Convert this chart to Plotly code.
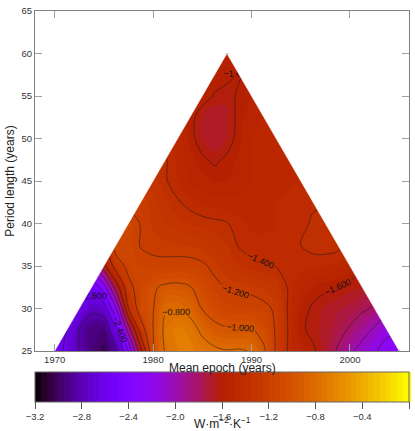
import math
import plotly.graph_objects as go

# Grid: mean epoch (years) and period length (years)
EPOCH = [1970.0, 1971.25, 1972.5, 1973.75, 1975.0, 1976.25, 1977.5, 1978.75, 1980.0,
         1981.25, 1982.5, 1983.75, 1985.0, 1986.25, 1987.5, 1988.75, 1990.0, 1991.25,
         1992.5, 1993.75, 1995.0, 1996.25, 1997.5, 1998.75, 2000.0, 2001.25, 2002.5,
         2003.75, 2005.0]
PERIOD = [25.0, 27.5, 30.0, 32.5, 35.0, 37.5, 40.0, 42.5, 45.0, 47.5, 50.0, 52.5, 55.0, 57.5, 60.0]

# Values inside the triangle, one list per period length (left edge -> right edge)
ROW_25 = [-2.50, -2.65, -2.80, -2.95, -3.02, -2.85, -2.40, -1.65, -1.02, -0.78, -0.70, -0.68,
          -0.72, -0.76, -0.79, -0.78, -0.81, -0.97, -1.22, -1.42, -1.52, -1.58, -1.68, -1.82,
          -1.96, -2.08, -2.18, -2.28, -2.36]
ROW_27_5 = [-2.60, -2.80, -2.95, -2.95, -2.60, -1.90, -1.30, -1.00, -0.75, -0.68, -0.72, -0.84,
            -0.95, -0.98, -0.985, -0.98, -1.07, -1.22, -1.41, -1.58, -1.63, -1.67, -1.74, -1.82,
            -1.92, -2.03, -2.15]
ROW_30 = [-2.60, -2.75, -2.70, -2.20, -1.40, -1.10, -1.01, -0.82, -0.81, -0.86, -1.01, -1.08,
          -1.13, -1.15, -1.15, -1.17, -1.22, -1.42, -1.55, -1.62, -1.66, -1.69, -1.72, -1.77, -1.82]
ROW_32_5 = [-2.55, -2.30, -1.70, -1.25, -1.12, -1.02, -0.97, -0.96, -0.99, -1.08, -1.17, -1.21,
            -1.22, -1.23, -1.26, -1.32, -1.41, -1.50, -1.55, -1.58, -1.60, -1.63, -1.65]
ROW_35 = [-1.65, -1.30, -1.15, -1.15, -1.17, -1.17, -1.16, -1.16, -1.18, -1.23, -1.30, -1.35,
          -1.38, -1.39, -1.405, -1.42, -1.43, -1.44, -1.45, -1.47, -1.52]
ROW_37_5 = [-1.10, -1.12, -1.21, -1.23, -1.24, -1.25, -1.26, -1.28, -1.31, -1.35, -1.41, -1.43,
            -1.44, -1.43, -1.42, -1.40, -1.37, -1.36, -1.37]
ROW_40 = [-1.12, -1.21, -1.26, -1.30, -1.33, -1.35, -1.37, -1.38, -1.395, -1.44, -1.46, -1.46,
          -1.45, -1.44, -1.42, -1.39, -1.36]
ROW_42_5 = [-1.21, -1.28, -1.34, -1.39, -1.43, -1.46, -1.48, -1.48, -1.48, -1.47, -1.46, -1.45,
            -1.44, -1.42, -1.41]
ROW_45 = [-1.32, -1.39, -1.45, -1.50, -1.53, -1.55, -1.55, -1.53, -1.50, -1.48, -1.47, -1.46, -1.45]
ROW_47_5 = [-1.39, -1.46, -1.53, -1.58, -1.62, -1.58, -1.54, -1.50, -1.46, -1.45, -1.47]
ROW_50 = [-1.47, -1.56, -1.66, -1.70, -1.65, -1.56, -1.50, -1.46, -1.47]
ROW_52_5 = [-1.56, -1.66, -1.70, -1.66, -1.57, -1.52, -1.50]
ROW_55 = [-1.55, -1.61, -1.64, -1.58, -1.55]
ROW_57_5 = [-1.55, -1.57, -1.61]
ROW_60 = [-1.55]

ROWS = [ROW_25, ROW_27_5, ROW_30, ROW_32_5, ROW_35, ROW_37_5, ROW_40, ROW_42_5,
        ROW_45, ROW_47_5, ROW_50, ROW_52_5, ROW_55, ROW_57_5, ROW_60]

Z = []
for j, row in enumerate(ROWS):
    pad = [None] * j
    Z.append(pad + list(row) + pad)

CB_TICKS = [-3.2, -2.8, -2.4, -2.0, -1.6, -1.2, -0.8, -0.4, 0.0]
CB_TITLE = "W·m<sup>−2</sup>·K<sup>−1</sup>"
X_TITLE = "Mean epoch (years)"
Y_TITLE = "Period length (years)"


def gnuplot_scale(n=48):
    out = []
    for k in range(n + 1):
        t = k / n
        r = math.sqrt(t)
        g = t ** 3
        b = max(0.0, math.sin(2 * math.pi * t))
        out.append([t, "rgb(%d,%d,%d)" % (round(r * 255), round(g * 255), round(b * 255))])
    return out


FONT = "Liberation Sans, Arial, sans-serif"

fig = go.Figure()

fig.add_trace(go.Contour(
    x=EPOCH, y=PERIOD, z=Z,
    colorscale=gnuplot_scale(), zmin=-3.2, zmax=0.0,
    autocontour=False,
    contours=dict(start=-3.2, end=0.0, size=0.05, coloring="fill", showlines=False),
    line=dict(width=0),
    hoverinfo="skip",
    colorbar=dict(
        orientation="h", x=0.5, xanchor="center", len=1.0, lenmode="fraction",
        y=-0.0627, yanchor="top", thickness=30, xpad=0, ypad=0,
        outlinewidth=1, outlinecolor="#666",
        tickvals=CB_TICKS, tickformat=".1f", ticks="outside", ticklen=7,
        tickcolor="#555", tickfont=dict(size=9.5, color="#333", family=FONT),
    ),
))

fig.add_trace(go.Contour(
    x=EPOCH, y=PERIOD, z=Z,
    autocontour=False,
    contours=dict(start=-3.0, end=-0.6, size=0.2, coloring="none",
                  showlabels=True, labelformat=".3f",
                  labelfont=dict(size=9, color="#111", family=FONT)),
    line=dict(color="rgba(25,25,25,0.85)", width=0.6, smoothing=1),
    showscale=False, hoverinfo="skip",
))

# white masks outside the triangular data domain
x0, x1 = EPOCH[0], EPOCH[-1]
xa = (x0 + x1) / 2
y0, y1 = PERIOD[0], PERIOD[-1]
for xs, ys in (([x0, xa, x0, x0], [y0, y1, y1, y0]), ([x1, x1, xa, x1], [y0, y1, y1, y0])):
    fig.add_trace(go.Scatter(x=xs, y=ys, fill="toself", fillcolor="white", mode="lines",
                             line=dict(color="white", width=0.5), hoverinfo="skip",
                             showlegend=False))

axis_common = dict(showline=True, linecolor="#808080", linewidth=1, mirror="ticks",
                   ticks="inside", ticklen=7, tickcolor="#a0a0a0", tickwidth=1,
                   showgrid=False, zeroline=False,
                   tickfont=dict(size=9.5, color="#333", family=FONT))

fig.update_layout(
    width=415, height=431,
    margin=dict(l=35, r=6, t=11, b=80, autoexpand=False),
    paper_bgcolor="white", plot_bgcolor="white",
    font=dict(family=FONT, color="#222"),
    showlegend=False,
    xaxis=dict(range=[1968, 2006], tickvals=[1970, 1980, 1990, 2000], **axis_common),
    yaxis=dict(range=[25, 65], dtick=5, tick0=25,
               title=dict(text=Y_TITLE, font=dict(size=12, color="#222"), standoff=4),
               **axis_common),
    annotations=[
        dict(text=X_TITLE, xref="paper", yref="paper", x=0.5, y=-0.051,
             xanchor="center", yanchor="middle", showarrow=False,
             font=dict(size=12, color="#222", family=FONT)),
        dict(text=CB_TITLE, xref="paper", yref="paper", x=0.5, y=-0.2128,
             xanchor="center", yanchor="middle", showarrow=False,
             font=dict(size=12, color="#222", family=FONT)),
    ],
)

fig.write_html("out.html")
